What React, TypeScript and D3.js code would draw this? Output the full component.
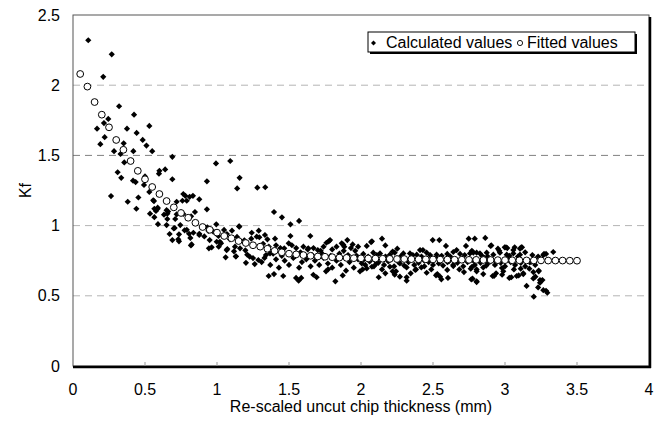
import React from "react";
import * as d3 from "d3";

const yTicks = [0, 0.5, 1, 1.5, 2, 2.5];
const xTicks = [0, 0.5, 1, 1.5, 2, 2.5, 3, 3.5, 4];
const gridValues = [0.5, 1, 1.5, 2];
const xTitle = "Re-scaled uncut chip thickness (mm)";
const yTitle = "Kf";
const seriesNames = ["Calculated values", "Fitted values"];

const fittedX = [
  0.05, 0.1, 0.15, 0.2, 0.25, 0.3, 0.35, 0.4, 0.45, 0.5,
  0.55, 0.6, 0.65, 0.7, 0.75, 0.8, 0.85, 0.9, 0.95, 1.0,
  1.05, 1.1, 1.15, 1.2, 1.25, 1.3, 1.35, 1.4, 1.45, 1.5,
  1.55, 1.6, 1.65, 1.7, 1.75, 1.8, 1.85, 1.9, 1.95, 2.0,
  2.05, 2.1, 2.15, 2.2, 2.25, 2.3, 2.35, 2.4, 2.45, 2.5,
  2.55, 2.6, 2.65, 2.7, 2.75, 2.8, 2.85, 2.9, 2.95, 3.0,
  3.05, 3.1, 3.15, 3.2, 3.25, 3.3, 3.35, 3.4, 3.45, 3.5,
];
const fittedY = [
  2.08, 1.99, 1.88, 1.79, 1.7, 1.61, 1.54, 1.46, 1.39, 1.33,
  1.275, 1.225, 1.175, 1.13, 1.09, 1.056, 1.02, 0.99, 0.97, 0.95,
  0.926, 0.91, 0.89, 0.876, 0.86, 0.85, 0.835, 0.82, 0.81, 0.8,
  0.795, 0.79, 0.785, 0.78, 0.778, 0.775, 0.772, 0.77, 0.768, 0.767,
  0.766, 0.765, 0.764, 0.763, 0.762, 0.762, 0.761, 0.76, 0.76, 0.759,
  0.758, 0.758, 0.757, 0.757, 0.756, 0.756, 0.755, 0.755, 0.754, 0.754,
  0.753, 0.753, 0.752, 0.752, 0.752, 0.751, 0.751, 0.751, 0.75, 0.75,
];

const calculatedValues: [number, number][] = [
  [0.106, 2.32], [0.269, 2.22], [0.21, 2.06], [0.32, 1.85], [0.424, 1.79], [0.245, 1.76],
  [0.215, 1.73], [0.53, 1.71], [0.167, 1.69], [0.375, 1.69], [0.442, 1.66], [0.22, 1.63],
  [0.484, 1.61], [0.19, 1.58], [0.352, 1.586], [0.51, 1.57], [0.285, 1.53], [0.419, 1.53],
  [0.55, 1.53], [0.33, 1.51], [0.69, 1.49], [0.356, 1.45], [0.6, 1.39], [0.64, 1.4],
  [0.597, 1.37], [0.31, 1.38], [0.335, 1.34], [0.69, 1.33], [0.417, 1.32], [0.435, 1.31],
  [0.5, 1.35], [0.493, 1.29], [0.53, 1.24], [0.264, 1.21], [0.557, 1.18], [0.38, 1.17],
  [0.454, 1.2], [0.44, 1.12], [0.565, 1.12], [0.535, 1.085], [0.588, 1.12], [0.655, 1.085],
  [0.59, 1.01], [0.72, 1.17], [0.72, 1.08],
  [0.993, 1.443], [1.092, 1.46], [0.93, 1.315], [1.157, 1.34], [1.14, 1.265], [1.28, 1.27],
  [0.766, 1.225], [0.78, 1.212], [0.81, 1.205], [0.833, 1.212], [0.877, 1.187], [0.76, 1.177],
  [0.79, 1.177], [0.93, 1.116], [0.5625, 1.175], [0.588, 1.128], [0.576, 1.104], [0.632, 1.078],
  [0.66, 1.1], [0.655, 1.047], [0.71, 1.047], [0.766, 1.083], [0.82, 1.066], [0.847, 1.097],
  [0.65, 1.004], [0.706, 0.983], [0.745, 1.004], [0.775, 0.966], [0.806, 0.942], [0.836, 0.949],
  [0.877, 0.942], [0.912, 0.923], [0.94, 0.963], [0.995, 1.009], [0.988, 0.954], [1.049, 0.969],
  [1.069, 0.94], [1.104, 0.964], [1.153, 0.995], [1.139, 0.919], [1.19, 0.895], [1.238, 0.907],
  [1.29, 0.964], [0.671, 0.94], [0.736, 0.938], [0.815, 0.912], [0.69, 0.897], [0.731, 0.902],
  [0.819, 0.859], [0.949, 0.897], [0.963, 0.845], [1.012, 0.85], [1.028, 0.874], [1.072, 0.833],
  [1.06, 0.774], [1.118, 0.817], [1.132, 0.781], [1.16, 0.838], [1.197, 0.824], [1.21, 0.793],
  [1.227, 0.779], [1.25, 0.769], [1.262, 0.726], [1.201, 0.735], [1.287, 0.755],
  [0.736, 0.888], [0.824, 0.866], [0.944, 0.838], [0.974, 0.957], [1.01, 0.926], [1.02, 0.885],
  [1.09, 0.902], [1.125, 0.85], [1.155, 0.992], [0.565, 1.06], [0.65, 1.11], [0.7, 0.98],
  [0.79, 0.97], [0.877, 0.933], [0.933, 0.988], [0.998, 0.885], [1.067, 0.826], [1.13, 0.78],
  [1.335, 1.273], [1.396, 1.097], [1.451, 1.059], [1.51, 1.009], [1.57, 1.033], [1.648, 0.926],
  [1.51, 0.926], [1.403, 0.907], [1.333, 0.933], [1.35, 0.902], [1.241, 0.949], [1.276, 0.921],
  [1.294, 0.917], [1.776, 0.888], [1.785, 0.897], [1.905, 0.897], [1.866, 0.874], [1.884, 0.85],
  [1.942, 0.866], [1.98, 0.85], [2.04, 0.855], [1.498, 0.874], [1.467, 0.838], [1.634, 0.838],
  [1.7, 0.826], [1.368, 0.802],
  [1.76, 0.878], [1.877, 0.864], [2.076, 0.888], [2.146, 0.907], [2.169, 0.859], [2.252, 0.836],
  [2.41, 0.826], [2.43, 0.826], [2.498, 0.897], [2.544, 0.897], [2.59, 0.855], [2.664, 0.826],
  [2.748, 0.907], [2.79, 0.907], [2.863, 0.912], [2.9, 0.855], [3.007, 0.845], [3.058, 0.826],
  [3.113, 0.845], [3.335, 0.812], [3.285, 0.798],
  [1.359, 0.641], [1.396, 0.655], [1.46, 0.641], [1.549, 0.627], [1.567, 0.608], [1.585, 0.627],
  [1.669, 0.65], [1.692, 0.632], [1.757, 0.674], [1.771, 0.688], [1.822, 0.603], [1.873, 0.645],
  [1.896, 0.679], [1.993, 0.674], [2.011, 0.688], [2.123, 0.632], [2.22, 0.674], [2.234, 0.65],
  [2.317, 0.632], [2.317, 0.608], [2.377, 0.684], [2.53, 0.655], [2.549, 0.636], [2.604, 0.627],
  [2.775, 0.622], [2.803, 0.598], [2.849, 0.655], [2.924, 0.641], [2.98, 0.65], [3.044, 0.632],
  [3.095, 0.645], [3.127, 0.655], [3.15, 0.57], [3.2, 0.494], [3.23, 0.56], [3.243, 0.593],
  [3.26, 0.612], [3.285, 0.536], [3.294, 0.522], [3.266, 0.54], [3.197, 0.624], [3.234, 0.68],
  [3.266, 0.79],
  [2.07, 0.883], [2.729, 0.855],
  [2.016, 0.798], [2.085, 0.807], [2.132, 0.802], [2.201, 0.793], [2.234, 0.807], [2.294, 0.802],
  [2.34, 0.802], [2.387, 0.793], [2.456, 0.807], [2.525, 0.793], [2.599, 0.798], [2.641, 0.812],
  [2.688, 0.798], [2.757, 0.802], [2.803, 0.807],
  [2.005, 0.731], [2.04, 0.695], [2.076, 0.707], [2.108, 0.731], [2.146, 0.688], [2.169, 0.66],
  [2.201, 0.707], [2.243, 0.674], [2.27, 0.636], [2.317, 0.702], [2.345, 0.66], [2.382, 0.688],
  [2.419, 0.702], [2.456, 0.664], [2.488, 0.688], [2.521, 0.646], [2.558, 0.617], [2.599, 0.684],
  [2.641, 0.712], [2.683, 0.688], [2.715, 0.669], [2.762, 0.693], [2.803, 0.674],
  [2.905, 0.859], [2.951, 0.836], [2.998, 0.845], [3.016, 0.84], [3.067, 0.845], [3.104, 0.836],
  [3.118, 0.845], [3.271, 0.798],
  [2.78, 0.807], [2.826, 0.802], [2.873, 0.807], [2.919, 0.793], [2.965, 0.807], [3.012, 0.793],
  [3.058, 0.802], [3.104, 0.793],
  [2.771, 0.707], [2.803, 0.688], [2.849, 0.702], [2.882, 0.731], [2.914, 0.641], [2.938, 0.66],
  [2.979, 0.698], [2.988, 0.674], [3.03, 0.627], [3.062, 0.688], [3.081, 0.641], [3.109, 0.693],
  [3.127, 0.66], [3.169, 0.693], [3.197, 0.669], [3.211, 0.636], [3.234, 0.674], [3.243, 0.612],
  [2.766, 0.617], [2.803, 0.603],
  [1.32, 0.87], [1.36, 0.85], [1.41, 0.86], [1.44, 0.84], [1.52, 0.86], [1.55, 0.84],
  [1.6, 0.85], [1.63, 0.83], [1.67, 0.84], [1.72, 0.82], [1.74, 0.85], [1.8, 0.83],
  [1.83, 0.85], [1.88, 0.82], [1.93, 0.84], [1.96, 0.82],
  [1.31, 0.74], [1.33, 0.77], [1.37, 0.72], [1.41, 0.76], [1.43, 0.7], [1.47, 0.75],
  [1.5, 0.72], [1.53, 0.77], [1.57, 0.7], [1.59, 0.74], [1.62, 0.76], [1.65, 0.71],
  [1.68, 0.75], [1.71, 0.72], [1.74, 0.77], [1.77, 0.73], [1.8, 0.7], [1.83, 0.75],
  [1.86, 0.72], [1.89, 0.77], [1.92, 0.74], [1.95, 0.7], [1.98, 0.76],
  [2.02, 0.76], [2.1, 0.75], [2.18, 0.77], [2.26, 0.74], [2.35, 0.76], [2.44, 0.75],
  [2.52, 0.77], [2.6, 0.74], [2.7, 0.76], [2.78, 0.75], [2.86, 0.77], [2.94, 0.74],
  [3.02, 0.76], [3.1, 0.75], [3.18, 0.74], [3.25, 0.75],
  [2.03, 0.72], [2.06, 0.745], [2.09, 0.71], [2.12, 0.735], [2.16, 0.72], [2.19, 0.745],
  [2.23, 0.71], [2.27, 0.73], [2.3, 0.715], [2.33, 0.74], [2.37, 0.72], [2.4, 0.735],
  [2.44, 0.71], [2.47, 0.74], [2.5, 0.72], [2.54, 0.73], [2.57, 0.715], [2.61, 0.745],
  [2.64, 0.72], [2.67, 0.735], [2.71, 0.71], [2.74, 0.74], [2.79, 0.72], [2.83, 0.735],
  [2.87, 0.715], [2.9, 0.745], [2.93, 0.72], [2.97, 0.735], [3.0, 0.71], [3.04, 0.74],
  [3.07, 0.72], [3.11, 0.735], [3.14, 0.71], [3.17, 0.74], [3.21, 0.72],
  [2.05, 0.78], [2.11, 0.79], [2.17, 0.78], [2.22, 0.815], [2.28, 0.785], [2.36, 0.79],
  [2.42, 0.78], [2.48, 0.79], [2.56, 0.785], [2.62, 0.78], [2.72, 0.79], [2.77, 0.82],
  [2.84, 0.785], [2.88, 0.78], [2.96, 0.82], [3.03, 0.785], [3.09, 0.78], [3.14, 0.81],
  [3.19, 0.79], [3.23, 0.78],
  [1.34, 0.79], [1.39, 0.8], [1.45, 0.785], [1.54, 0.78], [1.58, 0.81], [1.66, 0.79],
  [1.73, 0.8], [1.79, 0.785], [1.85, 0.8], [1.91, 0.79], [1.97, 0.785],
];

const W = 665;
const H = 429;
const left = 73;
const right = 649;
const top = 15;
const bottom = 366;
const FONT = "'Liberation Sans', Arial, sans-serif";

function diamond(cx: number, cy: number, r: number) {
  return `M${cx},${cy - r}L${cx + r},${cy}L${cx},${cy + r}L${cx - r},${cy}Z`;
}

export default function App() {
  const x = d3.scaleLinear().domain([0, 4]).range([left, right]);
  const y = d3.scaleLinear().domain([0, 2.5]).range([bottom, top]);
  const fitted = fittedX.map((v, i) => [v, fittedY[i]] as [number, number]);

  return (
    <svg
      width={W}
      height={H}
      style={{ position: "absolute", left: 0, top: 0, background: "#fff" }}
      fontFamily={FONT}
    >
      <rect x={0} y={0} width={W} height={H} fill="#fff" />
      {gridValues.map((g) => (
        <line
          key={g}
          x1={left}
          x2={right}
          y1={y(g)}
          y2={y(g)}
          stroke={g === 1.5 ? "#808080" : "#b4b4b4"}
          strokeWidth={1}
          strokeDasharray="7,5"
        />
      ))}
      <rect x={left} y={top} width={right - left} height={bottom - top} fill="none" stroke="#555" strokeWidth={1} />
      <line x1={right + 1} x2={right + 1} y1={top + 2} y2={bottom + 2} stroke="#000" strokeWidth={2.5} />
      <line x1={left} x2={right + 2} y1={bottom + 1} y2={bottom + 1} stroke="#000" strokeWidth={2.5} />
      {xTicks.slice(1, -1).map((t) => (
        <line key={t} x1={x(t)} x2={x(t)} y1={bottom} y2={bottom - 4} stroke="#999" strokeWidth={1} />
      ))}
      {yTicks.map((t) => (
        <text key={t} x={60} y={y(t) + 5.5} textAnchor="end" fontSize={16} fill="#000">
          {t}
        </text>
      ))}
      {xTicks.map((t) => (
        <text key={t} x={x(t)} y={395} textAnchor="middle" fontSize={16} fill="#000">
          {t}
        </text>
      ))}
      <text x={(left + right) / 2} y={412} textAnchor="middle" fontSize={16} fill="#000">
        {xTitle}
      </text>
      <text
        transform={`translate(31,${(top + bottom) / 2}) rotate(-90)`}
        textAnchor="middle"
        fontSize={16}
        fill="#000"
      >
        {yTitle}
      </text>
      {calculatedValues.map(([a, b], i) => (
        <path key={i} d={diamond(x(a), y(b), 3.1)} fill="#000" />
      ))}
      {fitted.map(([a, b], i) => (
        <circle key={i} cx={x(a)} cy={y(b)} r={3.4} fill="#fff" stroke="#000" strokeWidth={1} />
      ))}
      <rect x={370} y={34} width={267} height={20} fill="#000" />
      <rect x={368} y={32} width={267} height={20} fill="#fff" stroke="#000" strokeWidth={1} />
      <path d={diamond(373.5, 43, 2.5)} fill="#000" />
      <text x={386} y={48} fontSize={16} fill="#000">
        {seriesNames[0]}
      </text>
      <circle cx={520} cy={43} r={2.6} fill="#fff" stroke="#000" strokeWidth={0.9} />
      <text x={527} y={48} fontSize={16} fill="#000">
        {seriesNames[1]}
      </text>
    </svg>
  );
}
